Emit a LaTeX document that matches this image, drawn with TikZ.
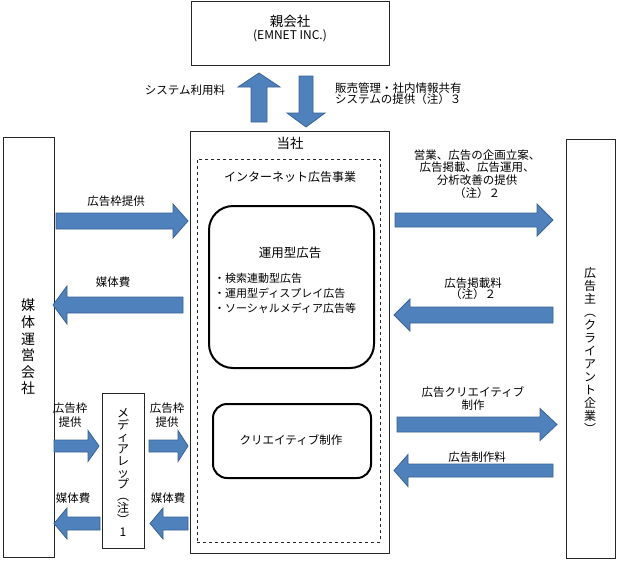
\documentclass[tikz,border=0pt]{standalone}
\usepackage{fontspec}
\setmainfont{Noto Sans CJK JP}
\definecolor{arrfill}{HTML}{4F81BD}
\definecolor{arrline}{HTML}{3A6496}
\tikzset{
  box/.style={draw=black!85, line width=0.9pt, inner sep=0},
  dbox/.style={draw=black!85, dashed, line width=0.7pt, inner sep=0},
  rbox/.style={draw=black, line width=2pt, inner sep=0},
  blk/.style={fill=arrfill, draw=arrline, line width=0.8pt, line join=miter},
  lbl/.style={inner sep=0, align=center, font=\fontsize{11.5}{12.5}\selectfont},
  head/.style={inner sep=0, align=center, font=\fontsize{13.5}{14}\selectfont},
}
\newcommand\HArrow[6]{% tail x, head base x, tip x, centre y, half shaft, half head
  \filldraw[blk] (#1,#4-#5) -- (#2,#4-#5) -- (#2,#4-#6) -- (#3,#4) -- (#2,#4+#6) -- (#2,#4+#5) -- (#1,#4+#5) -- cycle;}
\newcommand\VArrow[6]{% centre x, tail y, head base y, tip y, half shaft, half head
  \filldraw[blk] (#1-#5,#2) -- (#1-#5,#3) -- (#1-#6,#3) -- (#1,#4) -- (#1+#6,#3) -- (#1+#5,#3) -- (#1+#5,#2) -- cycle;}
\begin{document}
\begin{tikzpicture}[x=1pt,y=-1pt]
\useasboundingbox (0,0) rectangle (621,560);
\fill[white] (0,0) rectangle (621,560);

% boxes
\node[box, anchor=north west, minimum width=198pt, minimum height=64pt] (parent) at (191,1) {};
\node[head] (parentlbl) at (290,29) {親会社\\[-1pt]{\fontsize{12}{13}\selectfont (EMNET INC.)}};

\node[box, anchor=north west, minimum width=199pt, minimum height=422pt] (self) at (190,131) {};
\node[head] (selflbl) at (290,143) {当社};
\node[dbox, anchor=north west, minimum width=183pt, minimum height=383pt] (inet) at (197,159) {};
\node[lbl, font=\fontsize{12}{13}\selectfont] (inetlbl) at (290,177) {インターネット広告事業};

\node[rbox, rounded corners=24pt, anchor=north west, minimum width=165pt, minimum height=162pt] (unyo) at (208,205) {};
\node[lbl, font=\fontsize{12.5}{13}\selectfont] (unyolbl) at (290,253) {運用型広告};
\node[inner sep=0, align=left, anchor=west, font=\fontsize{11}{15}\selectfont] (bullets) at (214,293.5)
  {・検索連動型広告\\・運用型ディスプレイ広告\\・ソーシャルメディア広告等};

\node[rbox, rounded corners=14pt, anchor=north west, minimum width=158pt, minimum height=74pt] (creative) at (212,403) {};
\node[lbl] (creativelbl) at (291,440) {クリエイティブ制作};

\node[box, anchor=north west, minimum width=51pt, minimum height=420pt] (media) at (3,137) {};
\node[inner sep=0, align=center, font=\fontsize{14}{16.6}\selectfont] (medialbl) at (28,347)
  {媒\\体\\運\\営\\会\\社};

\node[box, anchor=north west, minimum width=49pt, minimum height=419pt] (client) at (566,139) {};
\node[inner sep=0, align=center, font=\fontsize{12}{13}\selectfont] (clientlbl) at (590,350)
  {広\\告\\主\\︵\\ク\\ラ\\イ\\ア\\ン\\ト\\企\\業\\︶};

\node[box, anchor=north west, minimum width=42pt, minimum height=155pt] (rep) at (102,393) {};
\node[inner sep=0, align=center, font=\fontsize{12}{11.9}\selectfont] (replbl) at (123,472.5)
  {メ\\デ\\ィ\\ア\\レ\\ッ\\プ\\︵\\注\\︶\\1};

% top arrows
\VArrow{259}{122}{87}{73}{8}{21}
\VArrow{306}{76}{113}{127}{7}{19}
\node[lbl] (sysfee) at (185,90) {システム利用料};
\node[lbl, align=left, anchor=west, font=\fontsize{11.5}{11.5}\selectfont] (sysprov) at (335,93.5)
  {販売管理・社内情報共有\\システムの提供（注）３};

% left big arrows
\HArrow{56}{173}{188}{221}{8}{17}
\HArrow{183}{67}{53}{305}{8}{19}
\node[lbl] (waku1) at (116,201) {広告枠提供};
\node[lbl] (hi1) at (113,282) {媒体費};

% right arrows
\HArrow{395}{537}{553}{220}{7}{16}
\HArrow{553}{410}{394}{315}{8}{16}
\HArrow{397}{540}{557}{424.5}{7.5}{16}
\HArrow{553}{408}{394}{470.5}{6.5}{16}
\node[lbl, font=\fontsize{11.5}{12.7}\selectfont] (svc) at (477,174)
  {営業、広告の企画立案、\\広告掲載、広告運用、\\分析改善の提供\\（注）２};
\node[lbl, font=\fontsize{11.5}{11}\selectfont] (keisai) at (473,289) {広告掲載料\\（注）２};
\node[lbl, font=\fontsize{11.5}{13}\selectfont] (crea) at (473,398.5) {広告クリエイティブ\\制作};
\node[lbl] (seisaku) at (477,457) {広告制作料};

% small arrows around media rep
\HArrow{54}{88}{99}{446}{6}{15.5}
\HArrow{100}{67}{54}{523.5}{6.5}{15.5}
\HArrow{149}{178}{188}{446}{6}{15.5}
\HArrow{188}{163}{150}{523.5}{6.5}{15.5}
\node[lbl, font=\fontsize{11.5}{14}\selectfont] (waku2) at (70,415) {広告枠\\提供};
\node[lbl, font=\fontsize{11.5}{14}\selectfont] (waku3) at (167,415) {広告枠\\提供};
\node[lbl] (hi2) at (73,498) {媒体費};
\node[lbl] (hi3) at (168,498) {媒体費};
\end{tikzpicture}
\end{document}
